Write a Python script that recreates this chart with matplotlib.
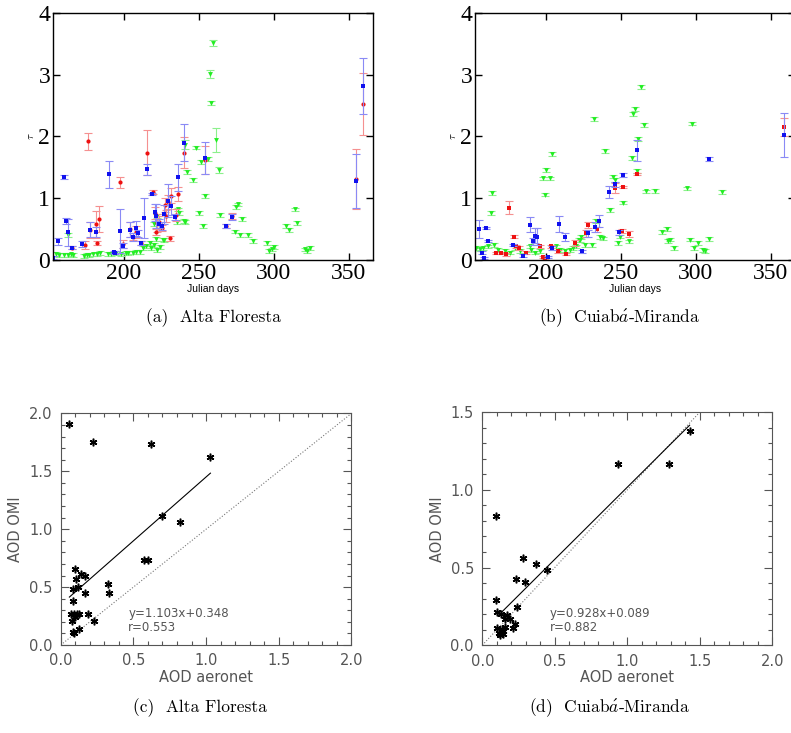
import matplotlib
matplotlib.use('Agg')
import matplotlib.pyplot as plt
from matplotlib.ticker import MultipleLocator

plt.rcParams['mathtext.fontset'] = 'cm'

# ---- (a) Alta Floresta: tau por dia juliano ----
a_azul_dias = [153.3, 156.5, 160.5, 161.8, 163.3, 165.8, 172.4, 177.8, 181.6, 190.4, 193.5, 194.5,
               197.3, 199.6, 204.4, 206.2, 208.4, 209.6, 211.8, 213.3, 215.3, 219.0, 220.7, 221.8,
               223.5, 225.5, 227.1, 229.6, 231.5, 234.4, 236.2, 240.2, 254.2, 268.4, 272.0, 354.9, 359.1]
a_azul_tau = [0.04, 0.30, 1.34, 0.63, 0.45, 0.20, 0.26, 0.49, 0.45, 1.39, 0.13, 0.12,
              0.47, 0.23, 0.49, 0.37, 0.51, 0.43, 0.27, 0.68, 1.47, 1.07, 0.77, 0.71,
              0.59, 0.55, 0.74, 0.96, 0.88, 0.70, 1.34, 1.90, 1.65, 0.55, 0.69, 1.28, 2.82]
a_azul_err = [0.02, 0.06, 0.03, 0.05, 0.22, 0.02, 0.05, 0.12, 0.08, 0.22, 0.02, 0.02,
              0.36, 0.04, 0.12, 0.06, 0.12, 0.05, 0.03, 0.33, 0.09, 0.02, 0.14, 0.20,
              0.08, 0.06, 0.15, 0.27, 0.15, 0.05, 0.22, 0.30, 0.26, 0.03, 0.05, 0.43, 0.45]

a_verm_dias = [165.8, 174.2, 176.4, 177.8, 181.8, 182.4, 183.6, 197.3, 199.6, 204.4, 206.2, 208.4,
               211.8, 215.3, 219.5, 220.7, 221.3, 222.5, 223.5, 225.5, 227.8, 228.2, 229.8, 230.7,
               231.3, 234.6, 236.2, 240.2, 254.2, 268.4, 272.0, 354.9, 359.1]
a_verm_tau = [0.20, 0.24, 1.92, 0.49, 0.58, 0.27, 0.66, 1.26, 0.26, 0.50, 0.38, 0.45,
              0.27, 1.74, 1.10, 0.76, 0.45, 0.60, 0.61, 0.52, 0.89, 0.71, 0.94, 0.35,
              1.04, 0.73, 1.07, 1.74, 1.62, 0.55, 0.71, 1.31, 2.53]
a_verm_err = [0.03, 0.06, 0.14, 0.13, 0.22, 0.03, 0.21, 0.09, 0.06, 0.12, 0.06, 0.10,
              0.03, 0.36, 0.03, 0.10, 0.05, 0.15, 0.10, 0.05, 0.12, 0.10, 0.12, 0.04,
              0.12, 0.10, 0.12, 0.25, 0.22, 0.04, 0.05, 0.48, 0.50]

a_verde_dias = [154.7, 157.3, 160.2, 162.9, 163.3, 164.7, 166.2, 173.8, 175.6, 176.9, 179.6, 182.2,
                184.0, 189.6, 191.8, 195.1, 198.4, 201.3, 202.9, 206.2, 208.4, 210.7, 212.9, 215.1,
                217.3, 218.4, 220.0, 220.5, 221.8, 221.9, 222.4, 224.0, 226.2, 226.9, 235.3, 236.2,
                236.7, 240.0, 240.6, 241.1, 242.2, 246.3, 248.1, 250.3, 251.3, 253.0, 254.0, 256.2,
                257.3, 258.4, 259.3, 261.3, 263.3, 264.3, 274.1, 275.1, 275.8, 277.3, 279.1, 283.1,
                286.2, 295.1, 296.9, 298.9, 300.4, 308.0, 310.2, 314.2, 315.1, 320.9, 322.2, 324.0]
a_verde_tau = [0.10, 0.08, 0.08, 0.08, 0.40, 0.09, 0.08, 0.07, 0.08, 0.08, 0.09, 0.10,
               0.11, 0.10, 0.10, 0.11, 0.09, 0.12, 0.11, 0.12, 0.13, 0.13, 0.19, 0.23,
               0.27, 0.19, 0.24, 0.58, 0.34, 0.71, 0.16, 0.21, 0.33, 0.32, 0.61, 0.82,
               0.76, 0.63, 0.62, 1.87, 1.42, 1.30, 1.82, 0.76, 1.59, 0.55, 1.04, 1.63,
               3.01, 2.54, 3.52, 1.94, 1.46, 0.73, 0.46, 0.86, 0.90, 0.40, 0.66, 0.40,
               0.31, 0.28, 0.14, 0.17, 0.21, 0.55, 0.49, 0.82, 0.60, 0.17, 0.14, 0.19]
a_verde_err = [0.03] * 39 + [0.08] + [0.03] * 8 + [0.06, 0.03, 0.05, 0.19, 0.05] + [0.03] * 19

# ---- (b) Cuiaba-Miranda ----
b_azul_dias = [155.5, 157.5, 159.3, 160.4, 161.5, 178.2, 184.9, 189.7, 191.5, 192.7, 194.4, 201.5,
               204.5, 208.7, 212.7, 224.0, 228.4, 233.0, 235.5, 242.4, 246.4, 248.9, 251.3, 260.7,
               308.9, 358.7]
b_azul_tau = [0.50, 0.12, 0.03, 0.52, 0.31, 0.24, 0.07, 0.57, 0.30, 0.39, 0.38, 0.05,
              0.19, 0.58, 0.37, 0.14, 0.43, 0.53, 0.63, 1.10, 1.23, 0.45, 1.38, 1.78,
              1.63, 2.02]
b_azul_err = [0.15, 0.02, 0.02, 0.02, 0.02, 0.02, 0.02, 0.12, 0.05, 0.12, 0.14, 0.02,
              0.03, 0.13, 0.07, 0.02, 0.06, 0.08, 0.10, 0.10, 0.04, 0.04, 0.03, 0.17,
              0.03, 0.36]

b_verm_dias = [166.7, 170.0, 173.8, 175.5, 178.7, 180.4, 182.0, 187.1, 196.4, 198.2, 199.8, 203.7,
               208.0, 213.7, 219.3, 226.6, 228.4, 234.4, 246.4, 250.6, 251.3, 255.7, 260.7, 358.7]
b_verm_tau = [0.11, 0.11, 0.09, 0.85, 0.38, 0.22, 0.19, 0.12, 0.22, 0.05, 0.04, 0.22,
              0.14, 0.10, 0.27, 0.43, 0.57, 0.50, 1.17, 0.47, 1.18, 0.42, 1.39, 2.15]
b_verm_err = [0.02, 0.02, 0.02, 0.11, 0.02, 0.03, 0.03, 0.02, 0.03, 0.02, 0.02, 0.03,
              0.02, 0.02, 0.05, 0.05, 0.05, 0.04, 0.08, 0.03, 0.02, 0.05, 0.02, 0.15]

b_verde_dias = [153.7, 156.0, 158.2, 161.5, 163.5, 164.4, 165.5, 168.2, 172.7, 176.0, 179.3, 182.7,
                189.3, 190.4, 192.7, 196.0, 198.4, 199.3, 200.4, 202.7, 204.4, 206.7, 209.3, 212.7,
                216.0, 218.2, 220.4, 222.2, 222.9, 223.7, 226.2, 230.7, 232.4, 233.5, 236.2, 238.0,
                239.5, 242.9, 244.7, 246.2, 248.4, 249.5, 251.3, 255.7, 257.5, 258.4, 259.5, 260.7,
                261.7, 263.3, 265.5, 266.7, 272.7, 277.5, 280.5, 281.7, 282.7, 285.7, 294.4, 296.2,
                297.5, 298.9, 301.7, 304.5, 306.0, 308.6, 317.7]
b_verde_tau = [0.19, 0.17, 0.19, 0.22, 0.76, 1.08, 0.24, 0.16, 0.14, 0.12, 0.19, 0.15,
               0.22, 0.16, 0.12, 0.14, 1.32, 1.06, 1.46, 1.32, 1.72, 0.22, 0.16, 0.14,
               0.16, 0.19, 0.22, 0.32, 0.32, 0.37, 0.24, 0.24, 2.28, 0.63, 0.37, 0.35,
               1.76, 0.81, 1.35, 1.30, 0.28, 0.38, 0.93, 0.30, 1.65, 2.36, 2.44, 1.44,
               1.96, 2.80, 2.19, 1.11, 1.12, 0.45, 0.50, 0.31, 0.33, 0.19, 1.16, 0.33,
               2.21, 0.19, 0.28, 0.16, 0.15, 0.34, 1.10]
b_verde_err = [0.03] * 67

# ---- (c) e (d) dispersao AOD ----
c_aeronet = [0.06, 0.225, 0.62, 1.03, 0.70, 0.82, 0.57, 0.60, 0.326, 0.33, 0.099, 0.105, 0.14,
             0.165, 0.087, 0.12, 0.165, 0.087, 0.071, 0.092, 0.11, 0.124, 0.076, 0.096, 0.188,
             0.23, 0.083, 0.09, 0.124]
c_omi = [1.91, 1.75, 1.74, 1.62, 1.11, 1.06, 0.73, 0.73, 0.53, 0.45, 0.66, 0.57, 0.61,
         0.60, 0.48, 0.50, 0.45, 0.38, 0.265, 0.265, 0.265, 0.27, 0.21, 0.24, 0.27,
         0.21, 0.11, 0.10, 0.135]
c_fit = (1.103, 0.348, 0.553)
c_fit_x = [0.06, 1.03]

d_aeronet = [0.094, 1.432, 0.933, 1.285, 0.283, 0.37, 0.232, 0.297, 0.444, 0.097, 0.241, 0.101,
             0.126, 0.172, 0.154, 0.191, 0.228, 0.099, 0.133, 0.159, 0.211, 0.113, 0.14, 0.122, 0.145]
d_omi = [0.835, 1.38, 1.167, 1.167, 0.56, 0.524, 0.427, 0.41, 0.485, 0.292, 0.249, 0.212,
         0.2, 0.193, 0.167, 0.167, 0.135, 0.109, 0.103, 0.12, 0.109, 0.077, 0.073, 0.067, 0.094]
d_fit = (0.928, 0.089, 0.882)
d_fit_x = [0.11, 1.43]

legendas = ['(a)  Alta Floresta', r'(b)  Cuiab$\acute{a}$-Miranda',
            '(c)  Alta Floresta', r'(d)  Cuiab$\acute{a}$-Miranda']


def painel_tau(ax, series):
    for dias, tau, err, cor_err, cor, marker, ms in series:
        ax.errorbar(dias, tau, yerr=err, fmt='none', ecolor=cor_err, elinewidth=0.8,
                    capsize=3, capthick=0.8)
        ax.plot(dias, tau, marker, color=cor, ms=ms, ls='none', mew=0)
    ax.set_xlim(153, 366)
    ax.set_ylim(0, 4)
    ax.set_xticks([200, 250, 300, 350])
    ax.set_yticks([0, 1, 2, 3, 4])
    ax.tick_params(direction='in', top=True, right=True, length=5, width=1, pad=2)
    for lab in ax.get_xticklabels() + ax.get_yticklabels():
        lab.set_fontfamily('Liberation Serif')
        lab.set_fontsize(17)
    ax.set_xlabel('Julian days', fontsize=7.5, family='Liberation Sans', labelpad=0)
    ax.set_ylabel(r'$\tau$', fontsize=8, labelpad=2)
    for s in ax.spines.values():
        s.set_linewidth(1.0)


def painel_aod(ax, x, y, fit, fit_x, ymax):
    cinza = '#555555'
    ax.plot([0, 2], [0, 2], ls=':', color='#777777', lw=0.8)
    ax.plot(fit_x, [fit[0] * v + fit[1] for v in fit_x], color='black', lw=0.8)
    ax.plot(x, y, ls='none', marker=(6, 2, 0), ms=5.5, color='black', mew=1.1)
    ax.text(0.465, ymax * 0.12, 'y=%.3fx+%.3f' % (fit[0], fit[1]), fontsize=8.5, color=cinza,
            family='DejaVu Sans')
    ax.text(0.465, ymax * 0.077, 'r=%.3f' % fit[2], fontsize=8.5, color=cinza, family='DejaVu Sans',
            va='center')
    ax.set_xlim(0, 2)
    ax.set_ylim(0, ymax)
    ax.set_xticks([0, 0.5, 1.0, 1.5, 2.0])
    ax.set_xticklabels(['0.0', '0.5', '1.0', '1.5', '2.0'])
    yt = [v * 0.5 for v in range(int(ymax / 0.5) + 1)]
    ax.set_yticks(yt)
    ax.set_yticklabels(['%.1f' % v for v in yt])
    ax.xaxis.set_minor_locator(MultipleLocator(0.1))
    ax.yaxis.set_minor_locator(MultipleLocator(0.1))
    ax.tick_params(which='both', direction='in', top=True, right=True, color=cinza,
                   labelcolor=cinza, labelsize=10.5, pad=6)
    ax.tick_params(which='major', length=6, width=0.8)
    ax.tick_params(which='minor', length=3, width=0.8)
    ax.set_xlabel('AOD aeronet', fontsize=10.5, color=cinza, labelpad=1)
    ax.set_ylabel('AOD OMI', fontsize=10.5, color=cinza, labelpad=4)
    for s in ax.spines.values():
        s.set_color(cinza)
        s.set_linewidth(0.8)


fig = plt.figure(figsize=(7.91, 7.33), dpi=100)

ax_a = fig.add_axes([0.067, 0.6453, 0.4046, 0.337])
painel_tau(ax_a, [
    (a_verde_dias, a_verde_tau, a_verde_err, '#8cf08c', '#22ee22', 'v', 3.5),
    (a_verm_dias, a_verm_tau, a_verm_err, '#f59090', '#ee1111', 'o', 3),
    (a_azul_dias, a_azul_tau, a_azul_err, '#8a8af5', '#1111ee', 's', 3.2),
])

ax_b = fig.add_axes([0.6005, 0.6453, 0.4046, 0.337])
painel_tau(ax_b, [
    (b_verde_dias, b_verde_tau, b_verde_err, '#8cf08c', '#22ee22', 'v', 3.5),
    (b_verm_dias, b_verm_tau, b_verm_err, '#f59090', '#ee1111', 's', 3),
    (b_azul_dias, b_azul_tau, b_azul_err, '#8a8af5', '#1111ee', 's', 3.2),
])

ax_c = fig.add_axes([0.0767, 0.120, 0.3676, 0.316])
painel_aod(ax_c, c_aeronet, c_omi, c_fit, c_fit_x, 2.0)

ax_d = fig.add_axes([0.6097, 0.1197, 0.3666, 0.318])
painel_aod(ax_d, d_aeronet, d_omi, d_fit, d_fit_x, 1.5)

# legendas estilo LaTeX
pos = [(213, 318), (620, 318), (200, 708), (610, 708)]
for (px, py), txt in zip(pos, legendas):
    fig.text(px / 791, 1 - py / 733, txt, ha='center', va='center', fontsize=12.5,
             family='cmr10')

fig.savefig('out.png', dpi=100)
